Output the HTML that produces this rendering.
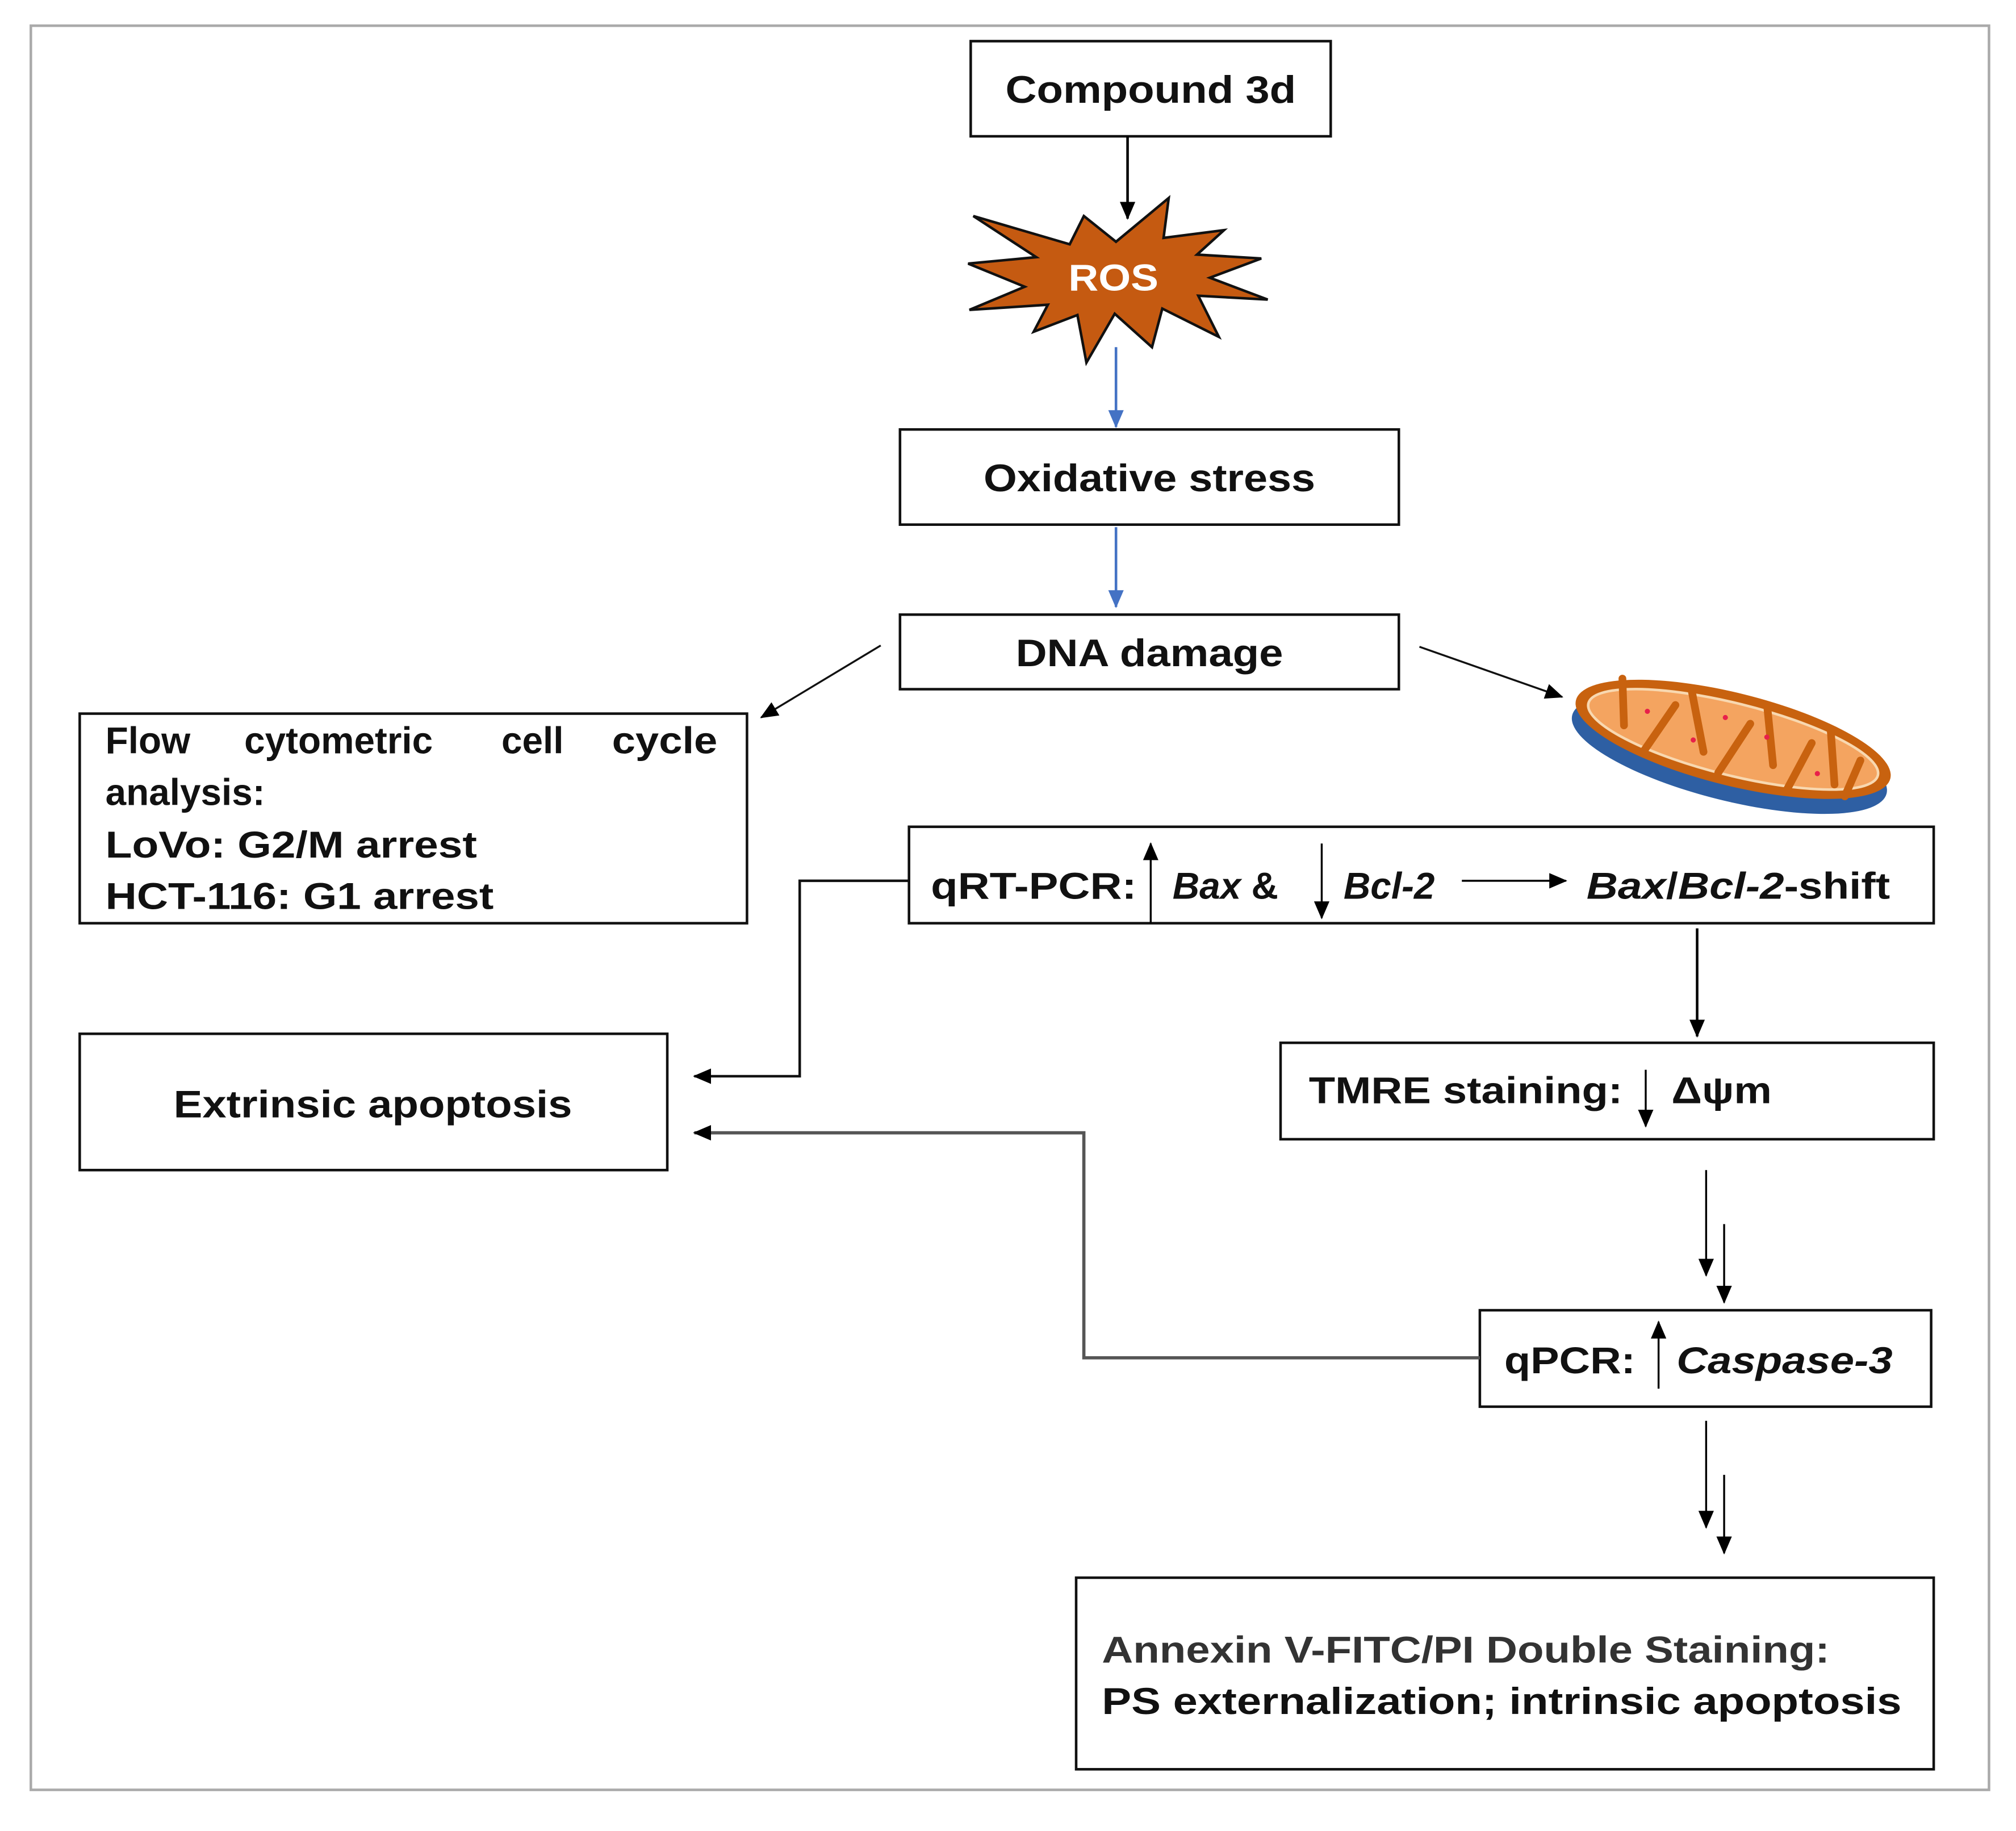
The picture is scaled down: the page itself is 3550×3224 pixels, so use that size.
<!DOCTYPE html>
<html><head><meta charset="utf-8"><style>
html,body{margin:0;padding:0;background:#fff;}
svg{display:block;}
text{font-family:"Liberation Sans",Arial,sans-serif;font-weight:bold;fill:#111;}
</style></head><body>
<svg width="3550" height="3224" viewBox="0 0 1568 1424" xmlns="http://www.w3.org/2000/svg">
<defs>
<marker id="ab" markerWidth="8" markerHeight="8" refX="7" refY="4" orient="auto" markerUnits="userSpaceOnUse"><path d="M0,0 L8,4 L0,8 z" fill="#000"/></marker>
<marker id="abig" markerWidth="14" markerHeight="12" refX="13" refY="6" orient="auto" markerUnits="userSpaceOnUse"><path d="M0,0 L14,6 L0,12 z" fill="#000"/></marker>
<marker id="ablue" markerWidth="14" markerHeight="12" refX="13" refY="6" orient="auto" markerUnits="userSpaceOnUse"><path d="M0,0 L14,6 L0,12 z" fill="#4472c4"/></marker>
</defs>
<rect x="24" y="20" width="1523" height="1372" fill="none" stroke="#aaa" stroke-width="2"/>

<rect x="755" y="32" width="280" height="74" fill="#fff" stroke="#111" stroke-width="2"/>
<text x="895" y="80" text-anchor="middle" font-size="30" textLength="226" lengthAdjust="spacingAndGlyphs">Compound 3d</text>
<line x1="877" y1="106" x2="877" y2="170" stroke="#000" stroke-width="2" marker-end="url(#abig)"/>

<polygon points="757,168 832,190 843,168 868,188 909,154 905,185 952,179 931,198 981,201 941,216 986,233 932,230 948,262 904,240 896,270 867,244 845,282 838,245 804,258 815,237 754,241 797,223 753,205 806,200"
 fill="#c55a11" stroke="#111" stroke-width="2" stroke-linejoin="miter"/>
<text x="866" y="226" text-anchor="middle" font-size="29" style="fill:#fff" textLength="70" lengthAdjust="spacingAndGlyphs">ROS</text>

<line x1="868" y1="270" x2="868" y2="332" stroke="#4472c4" stroke-width="2" marker-end="url(#ablue)"/>
<rect x="700" y="334" width="388" height="74" fill="#fff" stroke="#111" stroke-width="2"/>
<text x="894" y="382" text-anchor="middle" font-size="30" textLength="258" lengthAdjust="spacingAndGlyphs">Oxidative stress</text>
<line x1="868" y1="410" x2="868" y2="472" stroke="#4472c4" stroke-width="2" marker-end="url(#ablue)"/>
<rect x="700" y="478" width="388" height="58" fill="#fff" stroke="#111" stroke-width="2"/>
<text x="894" y="518" text-anchor="middle" font-size="30" textLength="208" lengthAdjust="spacingAndGlyphs">DNA damage</text>

<line x1="685" y1="502" x2="592" y2="558" stroke="#111" stroke-width="1.5" marker-end="url(#abig)"/>
<line x1="1104" y1="503" x2="1215" y2="542" stroke="#111" stroke-width="1.5" marker-end="url(#abig)"/>

<g transform="translate(1348,575) rotate(14)">
<ellipse cx="0" cy="12" rx="126" ry="36" fill="#2e5fa3"/>
<ellipse cx="0" cy="0" rx="126" ry="36" fill="#c8620f"/>
<ellipse cx="0" cy="0" rx="116" ry="28" fill="#f4a460" stroke="#f8d8b0" stroke-width="2"/>
<path d="M-95,-25 L-85,10 M-65,25 L-50,-15 M-40,-28 L-20,15 M-5,28 L10,-15 M20,-30 L35,12 M50,28 L60,-12 M72,-25 L85,15 M95,22 L100,-8" stroke="#c8620f" stroke-width="6" stroke-linecap="round" fill="none"/>
<circle cx="-70" cy="-5" r="2" fill="#e8204a"/><circle cx="-30" cy="8" r="2" fill="#e8204a"/><circle cx="25" cy="-8" r="2" fill="#e8204a"/><circle cx="70" cy="10" r="2" fill="#e8204a"/><circle cx="-10" cy="-15" r="2" fill="#e8204a"/>
</g>

<rect x="62" y="555" width="519" height="163" fill="#fff" stroke="#111" stroke-width="2"/>
<text x="82" y="586" font-size="29">Flow</text>
<text x="190" y="586" font-size="29">cytometric</text>
<text x="390" y="586" font-size="29">cell</text>
<text x="476" y="586" font-size="29" textLength="82" lengthAdjust="spacingAndGlyphs">cycle</text>
<text x="82" y="626" font-size="29">analysis:</text>
<text x="82" y="667" font-size="29" textLength="289" lengthAdjust="spacingAndGlyphs">LoVo: G2/M arrest</text>
<text x="82" y="707" font-size="29" textLength="302" lengthAdjust="spacingAndGlyphs">HCT-116: G1 arrest</text>

<rect x="707" y="643" width="797" height="75" fill="#fff" stroke="#111" stroke-width="2"/>
<text x="724" y="699" font-size="29" textLength="160" lengthAdjust="spacingAndGlyphs">qRT-PCR:</text>
<line x1="895" y1="718" x2="895" y2="656" stroke="#000" stroke-width="1.5" marker-end="url(#abig)"/>
<text x="912" y="699" font-size="29"><tspan font-style="italic">Bax</tspan> &amp;</text>
<line x1="1028" y1="656" x2="1028" y2="714" stroke="#000" stroke-width="1.5" marker-end="url(#abig)"/>
<text x="1045" y="699" font-size="29" font-style="italic">Bcl-2</text>
<line x1="1137" y1="685" x2="1218" y2="685" stroke="#000" stroke-width="1.5" marker-end="url(#abig)"/>
<text x="1234" y="699" font-size="29" textLength="236" lengthAdjust="spacingAndGlyphs"><tspan font-style="italic">Bax</tspan>/<tspan font-style="italic">Bcl-2</tspan>-shift</text>

<polyline points="707,685 622,685 622,837 540,837" fill="none" stroke="#111" stroke-width="2" marker-end="url(#abig)"/>

<rect x="62" y="804" width="457" height="106" fill="#fff" stroke="#111" stroke-width="2"/>
<text x="290" y="869" text-anchor="middle" font-size="30" textLength="310" lengthAdjust="spacingAndGlyphs">Extrinsic apoptosis</text>

<line x1="1320" y1="722" x2="1320" y2="806" stroke="#000" stroke-width="2" marker-end="url(#abig)"/>
<rect x="996" y="811" width="508" height="75" fill="#fff" stroke="#111" stroke-width="2"/>
<text x="1018" y="858" font-size="29" textLength="244" lengthAdjust="spacingAndGlyphs">TMRE staining:</text>
<line x1="1280" y1="832" x2="1280" y2="876" stroke="#000" stroke-width="1.5" marker-end="url(#abig)"/>
<text x="1300" y="858" font-size="29" textLength="78" lengthAdjust="spacingAndGlyphs">Δψm</text>

<line x1="1327" y1="910" x2="1327" y2="992" stroke="#000" stroke-width="1.5" marker-end="url(#abig)"/>
<line x1="1341" y1="952" x2="1341" y2="1013" stroke="#000" stroke-width="1.5" marker-end="url(#abig)"/>

<rect x="1151" y="1019" width="351" height="75" fill="#fff" stroke="#111" stroke-width="2"/>
<text x="1170" y="1068" font-size="29" textLength="102" lengthAdjust="spacingAndGlyphs">qPCR:</text>
<line x1="1290" y1="1080" x2="1290" y2="1028" stroke="#000" stroke-width="1.5" marker-end="url(#abig)"/>
<text x="1304" y="1068" font-size="29" font-style="italic" textLength="168" lengthAdjust="spacingAndGlyphs">Caspase-3</text>

<polyline points="1151,1056 843,1056 843,881 540,881" fill="none" stroke="#555" stroke-width="2.5" marker-end="url(#abig)"/>

<line x1="1327" y1="1105" x2="1327" y2="1188" stroke="#000" stroke-width="1.5" marker-end="url(#abig)"/>
<line x1="1341" y1="1147" x2="1341" y2="1208" stroke="#000" stroke-width="1.5" marker-end="url(#abig)"/>

<rect x="837" y="1227" width="667" height="149" fill="#fff" stroke="#111" stroke-width="2"/>
<text x="857" y="1293" font-size="29" style="fill:#333" textLength="566" lengthAdjust="spacingAndGlyphs">Annexin V-FITC/PI Double Staining:</text>
<text x="857" y="1333" font-size="29" textLength="622" lengthAdjust="spacingAndGlyphs">PS externalization;  intrinsic apoptosis</text>
</svg>
</body></html>
